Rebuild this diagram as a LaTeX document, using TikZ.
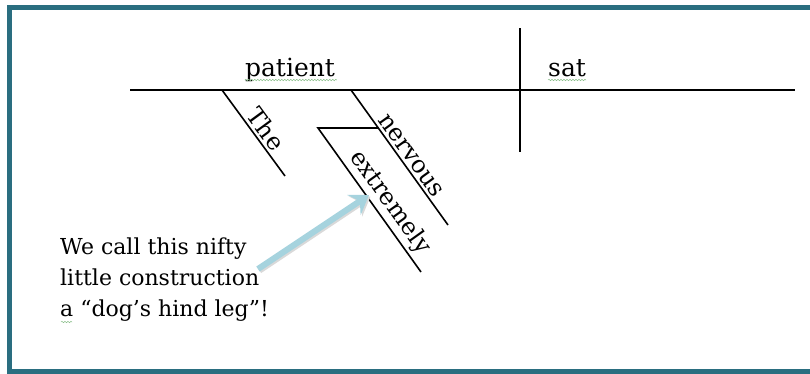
\documentclass[tikz,border=0pt]{standalone}
\usepackage{fontspec}
\setmainfont{DejaVu Serif}
\usetikzlibrary{arrows.meta,decorations.pathmorphing,calc}
\definecolor{frameteal}{HTML}{2A6E80}
\definecolor{arrowblue}{HTML}{A6D3DE}
\definecolor{squig}{HTML}{8CC08C}
\tikzset{
  diag/.style={line width=1.6pt, black},
  word/.style={font=\fontsize{25}{28}\selectfont, inner sep=2pt},
  slant/.style={font=\fontsize{24}{28}\selectfont, inner sep=2.5pt, sloped, above},
  note/.style={font=\fontsize{22}{31}\selectfont, align=left, anchor=base west, inner sep=0pt},
  wavy/.style={squig, line width=0.5pt, decorate, decoration={snake, segment length=3pt, amplitude=0.7pt}},
}
\begin{document}
\begin{tikzpicture}[x=1pt,y=-1pt]
\useasboundingbox (0,0) rectangle (810,373);
% frame (open at right)
\draw[frameteal, line width=5pt] (820,7.5) -- (9.5,7.5) -- (9.5,371.5) -- (820,371.5);
% baseline and divider
\coordinate (bl) at (130,90);
\coordinate (br) at (795,90);
\coordinate (dt) at (520,28);
\coordinate (db) at (520,152);
\draw[diag] (bl) -- (br);
\draw[diag] (dt) -- (db);
\node[word, anchor=base] (patient) at (290,76) {patient};
\node[word, anchor=base west] (sat) at (546,76) {sat};
\draw[wavy] (patient.base west) ++(2,4) -- ++(92,0);
\draw[wavy] (sat.base west) ++(2,4) -- ++(38,0);
% modifiers
\coordinate (theT) at (222,90);
\coordinate (theB) at (285,176);
\draw[diag] (theT) -- node[slant, pos=0.54] (the) {The} (theB);
\coordinate (nervT) at (351,90);
\coordinate (nervB) at (448,225);
\draw[diag] (nervT) -- node[slant, pos=0.53] (nervous) {nervous} (nervB);
\coordinate (legJ) at ($(nervT)!0.2815!(nervB)$);
\coordinate (legL) at (318,128);
\coordinate (extB) at (421,272);
\draw[diag] (legJ) -- (legL) -- node[slant, pos=0.58] (extremely) {extremely} (extB);
% note
\node[note] (noteText) at (60,316) {We call this nifty\\little construction\\a “dog’s hind leg”!};
\draw[wavy] (61,322) -- (72,322);
% arrow
\coordinate (arS) at (258,269);
\coordinate (arE) at (369,195);
\draw[black!15, line width=6pt, -{Stealth[length=18pt,width=24pt,inset=7pt]}] ([shift={(1.5,1.5)}]arS) -- ([shift={(1.5,1.5)}]arE);
\draw[arrowblue, line width=6pt, -{Stealth[length=18pt,width=24pt,inset=7pt]}] (arS) -- (arE);
\end{tikzpicture}
\end{document}
